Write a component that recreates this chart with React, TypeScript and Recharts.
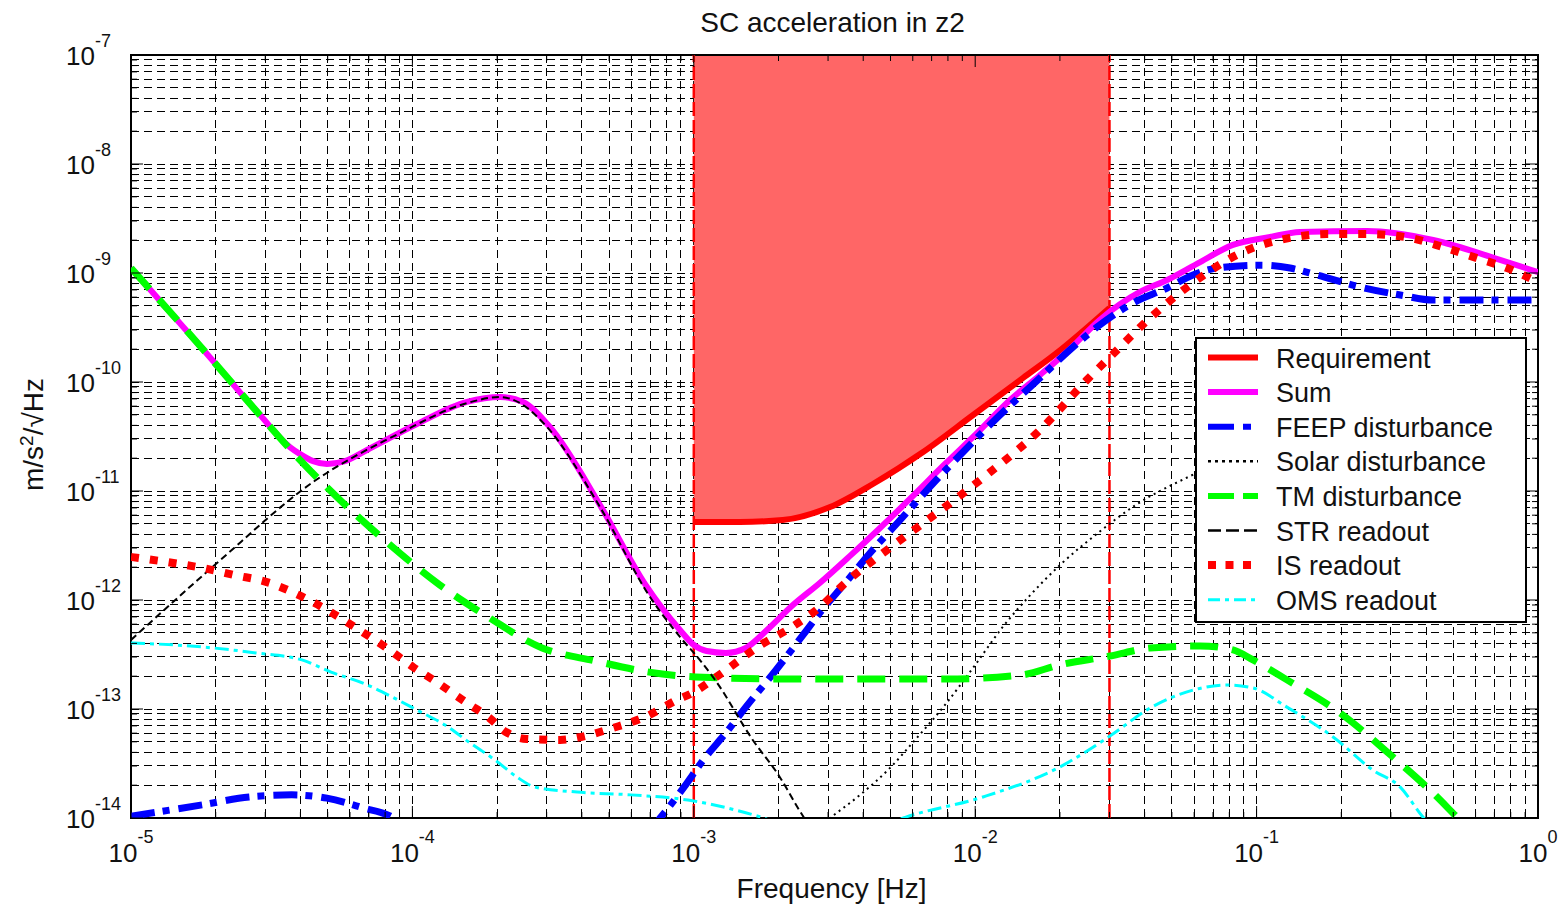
import React from 'react';
import {
  ComposedChart,
  Line,
  Area,
  XAxis,
  YAxis,
  CartesianGrid,
  ReferenceLine,
  ReferenceArea,
} from 'recharts';

// ---------------- data (frequency [Hz], value [m/s^2/sqrt(Hz)]) ----------------
const X_DECADES = [-5, -4, -3, -2, -1, 0];
const Y_DECADES = [-14, -13, -12, -11, -10, -9, -8, -7];
const MANTISSAS = [1, 2, 3, 4, 5, 6, 7, 8, 9];

const REQUIREMENT: [number, number][] = [
  [1e-3, 5.2e-12], [1.46e-3, 5.2e-12], [2.07e-3, 5.42e-12], [3.05e-3, 7.13e-12],
  [4.33e-3, 1.16e-11], [6.53e-3, 2.28e-11], [9.83e-3, 4.98e-11], [1.48e-2, 1.09e-10],
  [1.95e-2, 1.85e-10], [3e-2, 4.78e-10],
];

const SUM: [number, number][] = [
  [1e-5, 1.11e-9], [1.76e-5, 2.14e-10], [2.87e-5, 5.0e-11], [3.67e-5, 2.53e-11],
  [3.99e-5, 2.18e-11], [4.44e-5, 1.88e-11], [4.97e-5, 1.77e-11], [5.76e-5, 1.88e-11],
  [6.9e-5, 2.38e-11], [1.038e-4, 4.12e-11], [1.563e-4, 6.56e-11], [2.05e-4, 7.28e-11],
  [2.47e-4, 6.56e-11], [3.08e-4, 3.86e-11], [4.64e-4, 7.44e-12], [6.71e-4, 1.4e-12],
  [8.93e-4, 5.31e-13], [1e-3, 3.87e-13], [1.11e-3, 3.4e-13], [1.3e-3, 3.27e-13],
  [1.53e-3, 3.63e-13], [1.82e-3, 5.31e-13], [2.23e-3, 8.8e-13], [2.81e-3, 1.44e-12],
  [3.59e-3, 2.54e-12], [4.59e-3, 4.58e-12], [5.86e-3, 8.45e-12], [7.81e-3, 1.77e-11],
  [1e-2, 3.27e-11], [1.33e-2, 6.84e-11], [1.7e-2, 1.16e-10], [2.17e-2, 2.01e-10],
  [2.77e-2, 3.71e-10], [3.85e-2, 6.7e-10], [4.81e-2, 8.63e-10], [6.3e-2, 1.26e-9],
  [8.24e-2, 1.81e-9], [0.1117, 2.14e-9], [0.1426, 2.38e-9], [0.247, 2.43e-9],
  [0.424, 2.01e-9], [0.733, 1.32e-9], [1, 1.02e-9],
];

const FEEP: [number, number][] = [
  [1e-5, 1.04e-14], [1.79e-5, 1.32e-14], [2.63e-5, 1.56e-14], [3.73e-5, 1.63e-14],
  [4.97e-5, 1.52e-14], [6.67e-5, 1.24e-14], [8.47e-5, 1.02e-14], [9.8e-5, 7.76e-15],
  [6.98e-4, 7.76e-15], [7.64e-4, 1.02e-14], [9.23e-4, 1.92e-14], [1.08e-3, 3.4e-14],
  [1.3e-3, 6.03e-14], [1.53e-3, 1.04e-13], [1.96e-3, 2.28e-13], [2.37e-3, 4.3e-13],
  [2.86e-3, 8.1e-13], [3.45e-3, 1.43e-12], [4.23e-3, 2.7e-12], [5.41e-3, 5.42e-12],
  [6.9e-3, 1.09e-11], [8.84e-3, 2.14e-11], [1.225e-2, 4.98e-11], [1.7e-2, 1.09e-10],
  [2.17e-2, 1.97e-10], [2.77e-2, 3.33e-10], [3.64e-2, 5.31e-10], [4.81e-2, 7.28e-10],
  [5.94e-2, 9.59e-10], [7.23e-2, 1.11e-9], [0.1028, 1.18e-9], [0.1315, 1.11e-9],
  [0.164, 9.59e-10], [0.233, 7.44e-10], [0.324, 6.28e-10], [0.424, 5.65e-10],
  [0.638, 5.65e-10], [1, 5.65e-10],
];

const SOLAR: [number, number][] = [
  [2.7e-3, 7.76e-15], [3.05e-3, 1e-14], [3.9e-3, 1.63e-14], [4.98e-3, 2.88e-14],
  [6.11e-3, 5.2e-14], [7.81e-3, 1.09e-13], [1e-2, 2.54e-13], [1.245e-2, 5.54e-13],
  [1.57e-2, 1.11e-12], [2.0e-2, 2.09e-12], [2.73e-2, 4.12e-12], [3.72e-2, 7.44e-12],
  [5.8e-2, 1.37e-11], [0.1028, 2.64e-11],
];

const TM: [number, number][] = [
  [1e-5, 1.11e-9], [1.76e-5, 2.14e-10], [2.87e-5, 4.98e-11], [3.99e-5, 1.92e-11],
  [5.53e-5, 8.27e-12], [8.19e-5, 3.33e-12], [1.253e-4, 1.37e-12], [1.858e-4, 6.98e-13],
  [2.89e-4, 3.63e-13], [4.46e-4, 2.76e-13], [6.93e-4, 2.18e-13], [1.016e-3, 1.97e-13],
  [2.23e-3, 1.88e-13], [7.81e-3, 1.88e-13], [1.455e-2, 2.05e-13], [2.0e-2, 2.54e-13],
  [3.01e-2, 3.06e-13], [4.18e-2, 3.63e-13], [6.3e-2, 3.79e-13], [8.24e-2, 3.48e-13],
  [9.71e-2, 2.82e-13], [0.1282, 1.85e-13], [0.198, 9.18e-14], [0.305, 3.63e-14],
  [0.424, 1.69e-14], [0.515, 1.02e-14], [0.573, 7.76e-15],
];

const STR: [number, number][] = [
  [1e-5, 4.3e-13], [2.02e-5, 2.18e-12], [4.44e-5, 1.21e-11], [9.03e-5, 3.4e-11],
  [1.563e-4, 6.41e-11], [2.05e-4, 7.28e-11], [2.41e-4, 6.41e-11], [3.01e-4, 3.86e-11],
  [4.64e-4, 7.13e-12], [6.98e-4, 1.07e-12], [8.93e-4, 4.58e-13], [1.05e-3, 2.82e-13],
  [1.19e-3, 1.85e-13], [1.62e-3, 5.2e-14], [2.02e-3, 2.38e-14], [2.37e-3, 1.18e-14],
  [2.63e-3, 7.76e-15],
];

const IS: [number, number][] = [
  [1e-5, 2.48e-12], [1.343e-5, 2.23e-12], [1.79e-5, 1.97e-12], [2.34e-5, 1.69e-12],
  [3.04e-5, 1.46e-12], [3.95e-5, 1.11e-12], [4.97e-5, 8.1e-13], [6.31e-5, 5.54e-13],
  [8.0e-5, 3.71e-13], [1.005e-4, 2.43e-13], [1.233e-4, 1.73e-13], [1.563e-4, 1.135e-13],
  [1.858e-4, 8.45e-14], [2.15e-4, 6.15e-14], [2.55e-4, 5.31e-14], [3.35e-4, 5.2e-14],
  [3.97e-4, 5.54e-14], [5.16e-4, 6.7e-14], [6.71e-4, 8.45e-14], [8.71e-4, 1.21e-13],
  [9.86e-4, 1.4e-13], [1.23e-3, 2.05e-13], [1.73e-3, 3.87e-13], [2.23e-3, 5.65e-13],
  [2.81e-3, 8.63e-13], [3.45e-3, 1.43e-12], [5.02e-3, 3.06e-12], [7.81e-3, 7.13e-12],
  [1.13e-2, 1.49e-11], [1.7e-2, 3.63e-11], [2.49e-2, 1.04e-10], [3.01e-2, 1.69e-10],
  [4.18e-2, 3.86e-10], [5.8e-2, 7.76e-10], [8.95e-2, 1.56e-9], [0.1315, 2.1e-9],
  [0.178, 2.28e-9], [0.247, 2.28e-9], [0.351, 2.1e-9], [0.459, 1.73e-9],
  [0.607, 1.37e-9], [0.776, 1.11e-9], [1, 8.27e-10],
];

const OMS: [number, number][] = [
  [1e-5, 4.04e-13], [1.79e-5, 3.71e-13], [2.78e-5, 3.27e-13], [4.05e-5, 2.82e-13],
  [5.14e-5, 2.18e-13], [6.67e-5, 1.73e-13], [8.47e-5, 1.29e-13], [1.038e-4, 9.79e-14],
  [1.306e-4, 7.13e-14], [1.603e-4, 4.88e-14], [1.968e-4, 3.4e-14], [2.35e-4, 2.38e-14],
  [2.73e-4, 1.92e-14], [3.85e-4, 1.73e-14], [5.98e-4, 1.63e-14], [9.53e-4, 1.46e-14],
  [1.73e-3, 1.02e-14], [2.38e-3, 7.76e-15], [4.23e-3, 7.76e-15], [5.67e-3, 1.02e-14],
  [1.066e-2, 1.56e-14], [2.0e-2, 2.94e-14], [3.01e-2, 5.65e-14], [4.18e-2, 1.02e-13],
  [5.94e-2, 1.49e-13], [7.85e-2, 1.66e-13], [9.71e-2, 1.56e-13], [0.1282, 1.04e-13],
  [0.187, 5.54e-14], [0.259, 2.75e-14], [0.324, 1.92e-14], [0.39, 1.02e-14],
  [0.43, 7.76e-15],
];

const REQ_BAND_EDGES = [1e-3, 3e-2];

const TITLE = 'SC acceleration in z2';
const X_LABEL = 'Frequency [Hz]';

// ---------------- helpers ----------------
const buildTicks = (decades: number[]) => {
  const out: number[] = [];
  decades.forEach((e, i) => {
    if (i === decades.length - 1) out.push(Number(`1e${e}`));
    else MANTISSAS.forEach((m) => out.push(Number(`${m}e${e}`)));
  });
  return out;
};
const X_TICKS = buildTicks(X_DECADES);
const Y_TICKS = buildTicks(Y_DECADES);
const X_MIN = X_TICKS[0];
const X_MAX = X_TICKS[X_TICKS.length - 1];
const Y_MIN = Y_TICKS[0];
const Y_MAX = Y_TICKS[Y_TICKS.length - 1];

const rows = (pts: [number, number][]) => pts.map(([f, v]) => ({ f, v }));
const REQ_FILL = REQUIREMENT.map(([f, v]) => ({ f, range: [v, Y_MAX] }));

// ---------------- layout / style ----------------
const W = 1562;
const H = 909;
const PLOT = { left: 131, right: 1538, top: 55, bottom: 818 };
const FONT = '"Liberation Sans", Arial, Helvetica, sans-serif';
const TXT = '#111';

const SERIES = [
  { key: 'Requirement', data: REQUIREMENT, color: '#ff0000', width: 6, dash: undefined as string | undefined, legendWidth: 6, legendDash: undefined as string | undefined },
  { key: 'Sum', data: SUM, color: '#ff00ff', width: 6, dash: undefined, legendWidth: 6, legendDash: undefined },
  { key: 'FEEP disturbance', data: FEEP, color: '#0000ff', width: 7, dash: '24 8 7 9', legendWidth: 6, legendDash: '26 9 8 9' },
  { key: 'Solar disturbance', data: SOLAR, color: '#000000', width: 2, dash: '2 4', legendWidth: 2.5, legendDash: '3 4' },
  { key: 'TM disturbance', data: TM, color: '#00ff00', width: 7, dash: '28 14', legendWidth: 6, legendDash: '26 9' },
  { key: 'STR readout', data: STR, color: '#000000', width: 2, dash: '7 4', legendWidth: 2.5, legendDash: '13 5' },
  { key: 'IS readout', data: IS, color: '#ff0000', width: 8, dash: '8 11', legendWidth: 8, legendDash: '8 9.5' },
  { key: 'OMS readout', data: OMS, color: '#00ffff', width: 3, dash: '14 5 4 5', legendWidth: 3, legendDash: '12 5 4 5' },
];

const isDecade = (v: number) => Math.abs(Math.log10(v) - Math.round(Math.log10(v))) < 1e-6;

function XTick(props: any) {
  const { x, payload } = props;
  const v = payload.value as number;
  const major = isDecade(v);
  const len = major ? 12 : 6;
  const e = Math.round(Math.log10(v));
  return (
    <g>
      <line x1={x} x2={x} y1={PLOT.bottom} y2={PLOT.bottom - len} stroke="#000" strokeWidth={1} />
      <line x1={x} x2={x} y1={PLOT.top} y2={PLOT.top + len} stroke="#000" strokeWidth={1} />
      {major && (
        <text x={x} y={862} textAnchor="middle" fontFamily={FONT} fontSize={26} fill={TXT}>
          10
          <tspan dy={-19} fontSize={18}>{String(e)}</tspan>
        </text>
      )}
    </g>
  );
}

function YTick(props: any) {
  const { y, payload } = props;
  const v = payload.value as number;
  const major = isDecade(v);
  const len = major ? 12 : 6;
  const e = Math.round(Math.log10(v));
  return (
    <g>
      <line x1={PLOT.left} x2={PLOT.left + len} y1={y} y2={y} stroke="#000" strokeWidth={1} />
      <line x1={PLOT.right} x2={PLOT.right - len} y1={y} y2={y} stroke="#000" strokeWidth={1} />
      {major && (
        <text x={66} y={y + 10} textAnchor="start" fontFamily={FONT} fontSize={26} fill={TXT}>
          10
          <tspan dy={-18} fontSize={18}>{String(e)}</tspan>
        </text>
      )}
    </g>
  );
}

function LegendBox() {
  const left = 1195;
  const top = 337;
  const w = 332;
  const h = 286;
  const step = 34.6;
  return (
    <svg
      width={w}
      height={h}
      style={{ position: 'absolute', left, top, pointerEvents: 'none' }}
    >
      <rect x={1} y={1} width={w - 2} height={h - 2} fill="#fff" stroke="#000" strokeWidth={2} shapeRendering="crispEdges" />
      {SERIES.map((s, i) => {
        const cy = 20.5 + step * i;
        return (
          <g key={s.key}>
            <line
              x1={13}
              x2={63}
              y1={cy}
              y2={cy}
              stroke={s.color}
              strokeWidth={s.legendWidth}
              strokeDasharray={s.legendDash}
            />
            <text x={81} y={cy + 10} fontFamily={FONT} fontSize={27} fill={TXT}>
              {s.key}
            </text>
          </g>
        );
      })}
    </svg>
  );
}

const CSS = `
.recharts-cartesian-grid line,
.recharts-cartesian-axis-tick line,
.recharts-reference-area rect,
.recharts-reference-area path { shape-rendering: crispEdges; }
`;

export default function App() {
  return (
    <div style={{ position: 'absolute', left: 0, top: 0, width: W, height: H, background: '#fff' }}>
      <style>{CSS}</style>
      <ComposedChart width={W} height={H} margin={{ top: PLOT.top, right: W - PLOT.right, bottom: 0, left: 0 }}>
        <CartesianGrid stroke="#000" strokeOpacity={1} strokeWidth={1} strokeDasharray="8 5" />
        <XAxis
          dataKey="f"
          type="number"
          scale="log"
          domain={[X_MIN, X_MAX]}
          ticks={X_TICKS}
          interval={0}
          allowDataOverflow
          tick={XTick}
          tickLine={false}
          axisLine={false}
          height={H - PLOT.bottom}
        />
        <YAxis
          type="number"
          scale="log"
          domain={[Y_MIN, Y_MAX]}
          ticks={Y_TICKS}
          interval={0}
          allowDataOverflow
          tick={YTick}
          tickLine={false}
          axisLine={false}
          width={PLOT.left}
        />
        <Area
          data={REQ_FILL}
          dataKey="range"
          type="monotone"
          fill="#ff6666"
          fillOpacity={1}
          stroke="none"
          isAnimationActive={false}
          dot={false}
          activeDot={false}
        />
        {REQ_BAND_EDGES.map((x) => (
          <ReferenceLine key={x} x={x} stroke="#ff0000" strokeWidth={2.5} strokeDasharray="14 4" />
        ))}
        {SERIES.map((s) => (
          <Line
            key={s.key}
            name={s.key}
            data={rows(s.data)}
            dataKey="v"
            type="monotone"
            stroke={s.color}
            strokeWidth={s.width}
            strokeDasharray={s.dash}
            dot={false}
            activeDot={false}
            isAnimationActive={false}
          />
        ))}
        <ReferenceArea
          x1={X_MIN}
          x2={X_MAX}
          y1={Y_MIN}
          y2={Y_MAX}
          fill="none"
          fillOpacity={0}
          stroke="#000"
          strokeWidth={1.5}
        />
      </ComposedChart>
      <svg width={W} height={H} style={{ position: 'absolute', left: 0, top: 0, pointerEvents: 'none' }}>
        <text x={(PLOT.left + PLOT.right) / 2 - 2} y={32} textAnchor="middle" fontFamily={FONT} fontSize={28} fill={TXT}>
          {TITLE}
        </text>
        <text x={(PLOT.left + PLOT.right) / 2 - 3} y={898} textAnchor="middle" fontFamily={FONT} fontSize={28} fill={TXT}>
          {X_LABEL}
        </text>
        <text
          transform={`translate(43, ${(PLOT.top + PLOT.bottom) / 2 - 2}) rotate(-90)`}
          textAnchor="middle"
          fontFamily={FONT}
          fontSize={28}
          fill={TXT}
        >
          m/s
          <tspan dy={-10} fontSize={19}>2</tspan>
          <tspan dy={10}>/√Hz</tspan>
        </text>
      </svg>
      <LegendBox />
    </div>
  );
}
